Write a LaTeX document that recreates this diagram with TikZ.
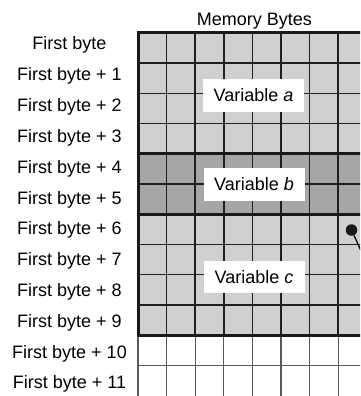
\documentclass[tikz,border=0pt]{standalone}
\usepackage{fontspec}
\setmainfont{Liberation Sans}
\usetikzlibrary{positioning}

\definecolor{cellgray}{RGB}{208,208,210}
\definecolor{cellgraydark}{RGB}{166,166,168}
\definecolor{gridgray}{RGB}{90,90,90}

\begin{document}
\begin{tikzpicture}[
x=1pt, y=-1pt,
font=\fontsize{18}{20}\selectfont,
gridline/.style={line width=1.6pt, draw=black!88},
freeline/.style={line width=1.2pt, draw=gridgray},
bigline/.style={line width=3pt, draw=black!90},
rowlabel/.style={anchor=base, inner sep=0pt},
varbox/.style={fill=white, inner sep=0pt, minimum width=101pt, minimum height=32.5pt}
]
\def\cw{28.6}
\def\rh{30.2}
\useasboundingbox (0,0) rectangle (360,396);
\begin{scope}
\clip (0,0) rectangle (360,396);
% cells of the three variables
\fill[cellgray] (138,33) rectangle (400,33+4*\rh);
\fill[cellgraydark] (138,33+4*\rh) rectangle (400,33+6*\rh);
\fill[cellgray] (138,33+6*\rh) rectangle (400,33+10*\rh);
% grid
\foreach \i in {0,...,9}
  \draw[gridline] (138+\i*\cw,33) -- (138+\i*\cw,33+10*\rh);
\foreach \i in {1,...,9}
  \draw[freeline] (138+\i*\cw,33+10*\rh) -- (138+\i*\cw,400);
\foreach \j in {1,2,3,5,7,8,9}
  \draw[gridline] (138,33+\j*\rh) -- (400,33+\j*\rh);
\draw[freeline] (138,33+11*\rh) -- (400,33+11*\rh);
\draw[freeline] (138,33+10*\rh) -- (138,400);
% borders between variables
\foreach \j in {0,4,6,10}
  \draw[bigline] (136.5,33+\j*\rh) -- (400,33+\j*\rh);
\draw[bigline] (138,33) -- (138,33+10*\rh);
% pointer
\node[circle, fill=black!90, inner sep=0pt, minimum size=11.5pt] (ptr) at (351.5,230) {};
\coordinate (ptrend) at (368,266);
\draw[line width=1.3pt] (ptr) -- (ptrend);
\end{scope}

\node[varbox] (vara) at (253.5,95.3) {Variable \textit{a}};
\node[varbox] (varb) at (254,184.4) {Variable \textit{b}};
\node[varbox] (varc) at (254,277) {Variable \textit{c}};

\node[rowlabel] (title) at (254.5,26) {Memory Bytes};
\node[rowlabel] (byte0) at (69.5,50) {First byte};
\foreach \i in {1,...,11}
  \node[rowlabel] (byte\i) at (69.5,50+\i*30.8) {First byte + \i};
\end{tikzpicture}
\end{document}
